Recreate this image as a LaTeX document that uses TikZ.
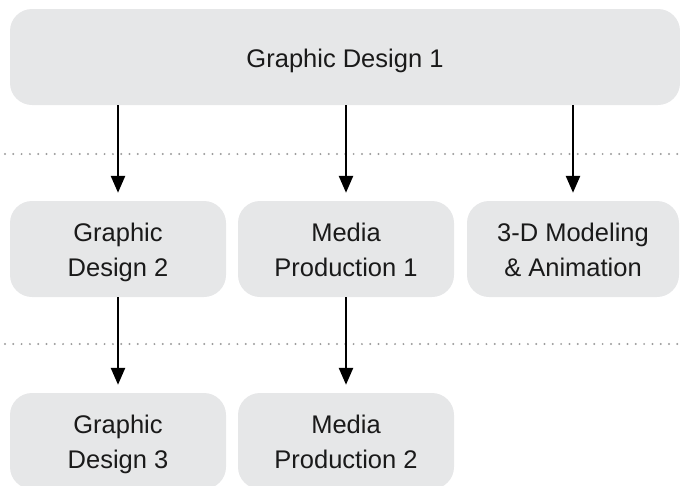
\documentclass[tikz,border=0pt]{standalone}
\usepackage{fontspec}
\setmainfont{Liberation Sans}
\usetikzlibrary{arrows.meta}
\definecolor{boxfill}{HTML}{E6E7E8}
\definecolor{txt}{HTML}{1A1A1A}
\definecolor{dotc}{HTML}{9C9C9C}
\newcommand\lstrut{\rule[-7.5pt]{0pt}{35pt}}
\begin{document}
\begin{tikzpicture}[x=1pt,y=-1pt,
  box/.style={draw=none, fill=boxfill, rounded corners=22pt, inner sep=0pt,
    align=center, font=\fontsize{25.5}{35}\selectfont, text=txt, minimum height=96pt},
  arr/.style={-{Triangle[length=17pt,width=14pt]}, line width=2.5pt, shorten >=8pt},
  sep/.style={dotc, line width=2.2pt, dash pattern=on 0pt off 8.3pt, line cap=round}]
\clip (0,0) rectangle (680,485);
\draw[sep] (5,154) -- (680,154);
\draw[sep] (5,344) -- (680,344);
\node[box, minimum width=670pt] (gd1) at (345,57) {\lstrut Graphic Design 1};
\node[box, minimum width=216pt] (gd2) at (118,249) {\lstrut Graphic\\\lstrut Design 2};
\node[box, minimum width=216pt] (mp1) at (346,249) {\lstrut Media\\\lstrut Production 1};
\node[box, minimum width=212pt] (dm) at (573,249) {\lstrut 3-D Modeling\\\lstrut\& Animation};
\node[box, minimum width=216pt] (gd3) at (118,441) {\lstrut Graphic\\\lstrut Design 3};
\node[box, minimum width=216pt] (mp2) at (346,441) {\lstrut Media\\\lstrut Production 2};
\draw[arr] (gd1.south -| gd2.north) -- (gd2.north);
\draw[arr] (gd1.south -| mp1.north) -- (mp1.north);
\draw[arr] (gd1.south -| dm.north) -- (dm.north);
\draw[arr] (gd2.south) -- (gd3.north);
\draw[arr] (mp1.south) -- (mp2.north);
\end{tikzpicture}
\end{document}
